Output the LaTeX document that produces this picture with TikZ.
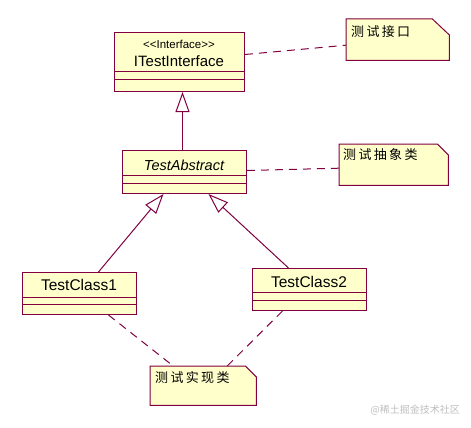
\documentclass[tikz,border=0pt]{standalone}
\usepackage{fontspec}
\setmainfont{Liberation Sans}
\newfontfamily\cjkfont{Noto Sans CJK SC}
\usetikzlibrary{arrows.meta,calc}
\definecolor{umlred}{HTML}{800040}
\definecolor{umlfill}{HTML}{FFFFCC}
\definecolor{wmgray}{HTML}{BEBEBE}
\tikzset{
  clsbox/.style={draw=umlred, fill=umlfill, line width=1pt, anchor=north west, inner sep=0pt},
  notebox/.style={anchor=north west, inner sep=0pt},
  notetext/.style={anchor=west, inner sep=0pt, font=\cjkfont\fontsize{13}{15}\selectfont\addfontfeature{LetterSpace=18}},
  clsname/.style={inner sep=0pt, font=\fontsize{15}{18}\selectfont},
  divider/.style={draw=umlred, line width=1pt},
  gen/.style={draw=umlred, line width=1pt, -{Triangle[open, length=20pt, width=14pt, fill=white, line width=1pt]}},
  notelink/.style={draw=umlred, line width=1pt, dash pattern=on 8pt off 6pt},
  noteshape/.style={draw=umlred, fill=umlfill, line width=1pt}
}
\begin{document}
\begin{tikzpicture}[x=1pt, y=-1pt]
\useasboundingbox (0,0) rectangle (471,428);

% classes
\node[clsbox, minimum width=130pt, minimum height=59pt] (iface) at (114,32) {};
\draw[divider] (114,72) -- (244,72) (114,79) -- (244,79);
\node[inner sep=0pt, font=\fontsize{11.5}{13}\selectfont] (ifacest) at (179,44) {\textless{}\textless{}Interface\textgreater{}\textgreater{}};
\node[clsname] (ifacename) at (179,61) {ITestInterface};

\node[clsbox, minimum width=124pt, minimum height=43pt] (abs) at (122,150) {};
\draw[divider] (122,175) -- (246,175) (122,183) -- (246,183);
\node[clsname, font=\fontsize{14.5}{17}\selectfont\itshape] (absname) at (184,165) {TestAbstract};

\node[clsbox, minimum width=114pt, minimum height=42pt] (tc1) at (22,272) {};
\draw[divider] (22,297) -- (136,297) (22,304) -- (136,304);
\node[clsname, font=\fontsize{15.5}{18}\selectfont] (tc1name) at (79,285) {TestClass1};

\node[clsbox, minimum width=114pt, minimum height=42pt] (tc2) at (252,268) {};
\draw[divider] (252,292) -- (366,292) (252,300) -- (366,300);
\node[clsname, font=\fontsize{15.5}{18}\selectfont] (tc2name) at (309,282) {TestClass2};

% notes
\node[notebox, minimum width=103pt, minimum height=41pt] (n1) at (346,19) {};
\draw[noteshape] (n1.north west) -- ([xshift=-17pt]n1.north east) -- ([yshift=-16pt]n1.north east) -- (n1.south east) -- (n1.south west) -- cycle;
\node[notetext] (n1t) at (351,32) {测试接口};

\node[notebox, minimum width=109pt, minimum height=41pt] (n2) at (339,144) {};
\draw[noteshape] (n2.north west) -- ([xshift=-11pt]n2.north east) -- ([yshift=-11pt]n2.north east) -- (n2.south east) -- (n2.south west) -- cycle;
\node[notetext] (n2t) at (343,155) {测试抽象类};

\node[notebox, minimum width=106pt, minimum height=39pt] (n3) at (150,366) {};
\draw[noteshape] (n3.north west) -- ([xshift=-11pt]n3.north east) -- ([yshift=-11pt]n3.north east) -- (n3.south east) -- (n3.south west) -- cycle;
\node[notetext] (n3t) at (155,378) {测试实现类};

% generalizations
\draw[gen] ([xshift=-2pt]abs.north) -- ([xshift=3pt]iface.south);
\draw[gen] ([xshift=19pt]tc1.north) -- ([xshift=-21pt]abs.south);
\draw[gen] ([xshift=-21pt]tc2.north) -- ([xshift=24pt]abs.south);

% note links
\draw[notelink] ([yshift=7.5pt]iface.east) -- ([yshift=-5.5pt]n1.west);
\draw[notelink] ([yshift=1.5pt]abs.east) -- ([yshift=-3.5pt]n2.west);
\draw[notelink] ([xshift=29pt]tc1.south) -- ([xshift=-30pt]n3.north);
\draw[notelink] ([xshift=-27pt]tc2.south) -- ([xshift=24pt]n3.north);

% watermark
\node[anchor=east, inner sep=0pt, text=wmgray, font=\cjkfont\fontsize{10}{12}\selectfont] (wm) at (460,410) {@稀土掘金技术社区};
\end{tikzpicture}
\end{document}
